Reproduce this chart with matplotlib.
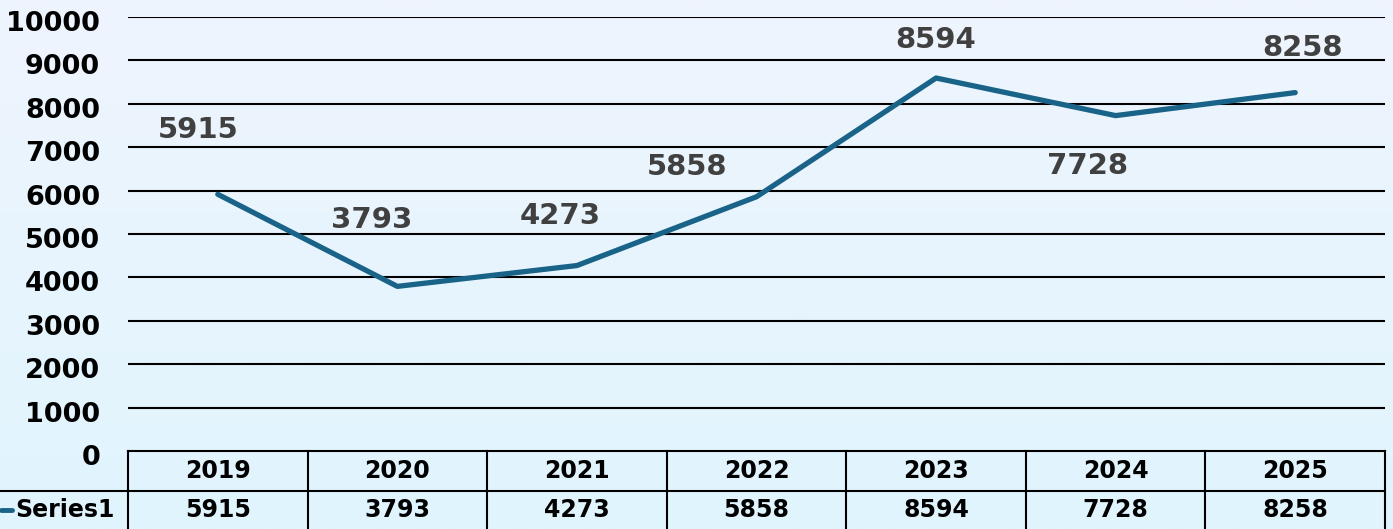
import matplotlib.pyplot as plt
import numpy as np
from matplotlib.transforms import blended_transform_factory, ScaledTranslation

years = ['2019', '2020', '2021', '2022', '2023', '2024', '2025']
values = [5915, 3793, 4273, 5858, 8594, 7728, 8258]
series_name = 'Series1'
yticks = [0, 1000, 2000, 3000, 4000, 5000, 6000, 7000, 8000, 9000, 10000]

# label offsets in pixels (dx, dy)
label_off = [(-20, 64), (-26, 66), (-17, 50), (-69, 30), (0, 38), (-28, -50), (7, 45)]

W, H = 1393, 529
fig = plt.figure(figsize=(W / 100, H / 100), dpi=100)

# background gradient
bg = fig.add_axes([0, 0, 1, 1], zorder=-10)
top = np.array([239, 245, 253]) / 255
bot = np.array([224, 244, 253]) / 255
t = np.linspace(0, 1, 256)[:, None]
grad = (top * (1 - t) + bot * t)[:, None, :]
bg.imshow(grad, aspect='auto', extent=[0, 1, 0, 1])
bg.axis('off')

x0, x1 = 128, 1385
y_top, y_zero = 17, 451
ax = fig.add_axes([x0 / W, (H - y_zero) / H, (x1 - x0) / W, (y_zero - y_top) / H])
ax.patch.set_alpha(0)
ax.set_xlim(0, len(years))
ax.set_ylim(0, 10000)
for s in ax.spines.values():
    s.set_visible(False)

for v in yticks[1:]:
    ax.axhline(v, color='black', lw=1.5, zorder=1)

ax.set_yticks(yticks)
ax.set_yticklabels([str(v) for v in yticks], fontsize=19.5, fontweight='bold')
ax.tick_params(axis='y', length=0, pad=20)
shift = ScaledTranslation(0, -4 / 100, fig.dpi_scale_trans)
for lab in ax.get_yticklabels():
    lab.set_transform(lab.get_transform() + shift)
ax.set_xticks([])

xs = np.arange(len(years)) + 0.5
ax.plot(xs, values, color='#1a6388', lw=3.8, solid_capstyle='round', zorder=3)

for x, v, (dx, dy) in zip(xs, values, label_off):
    ax.annotate(str(v), (x, v), xytext=(dx, dy), textcoords='offset pixels',
                ha='center', va='center', fontsize=21, fontweight='bold', color='#404040')

# data table below the axes
tr = blended_transform_factory(ax.transData, fig.transFigure)
row_h = 39.5 / H
y_t = (H - y_zero) / H
y_m = y_t - row_h
y_b = y_m - row_h
n = len(years)
ax.plot([0, n], [y_t, y_t], color='black', lw=1.5, transform=tr, clip_on=False)
fig.add_artist(plt.Line2D([0, x1 / W], [y_m, y_m], color='black', lw=1.5))
for i in range(n + 1):
    ax.plot([i, i], [y_b, y_t], color='black', lw=1.5, transform=tr, clip_on=False)
for x, yr, v in zip(xs, years, values):
    ax.text(x, (y_t + y_m) / 2, yr, transform=tr, ha='center', va='center',
            fontsize=17, fontweight='bold')
    ax.text(x, (y_m + y_b) / 2, str(v), transform=tr, ha='center', va='center',
            fontsize=17, fontweight='bold')

fig.add_artist(plt.Line2D([1 / W, 12 / W], [(y_m + y_b) / 2] * 2, color='#1a6388',
                          lw=3.5, solid_capstyle='round'))
fig.text(15 / W, (y_m + y_b) / 2, series_name, ha='left', va='center',
         fontsize=17, fontweight='bold')

fig.savefig('out.png', dpi=100)
